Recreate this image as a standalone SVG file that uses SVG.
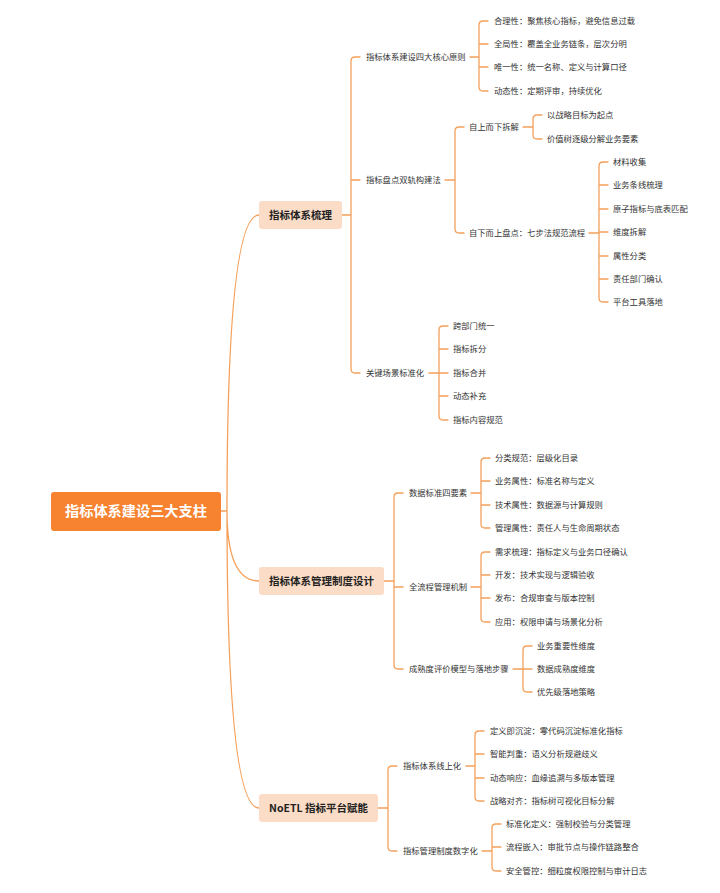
<svg xmlns="http://www.w3.org/2000/svg" width="720" height="893" viewBox="0 0 720 893">
<style>
.ln{fill:none;stroke:#F5A05A;stroke-width:1.3;stroke-linecap:round}
.t{font-family:"Noto Sans CJK SC","Noto Sans",sans-serif;font-size:8.3px;fill:#333}
.b{font-family:"Noto Sans CJK SC","Noto Sans",sans-serif;font-size:10.5px;font-weight:bold;fill:#222;text-anchor:middle}
.r{font-family:"Noto Sans CJK SC","Noto Sans",sans-serif;font-size:14.2px;font-weight:bold;fill:#fff;text-anchor:middle}
.bx{fill:#FBDCC6}
</style>
<rect width="720" height="893" fill="#fff"/>
<g id="connectors">
<path class="ln" d="M220,511 H227 M227,511 Q227,215 259,215 M227,511 Q227,581 259,581 M227,511 Q227,808 259,808"/>
<!-- branch 1 -->
<path class="ln" d="M342,215 H351 M360,57 H355 Q351,57 351,61 V369 Q351,373 355,373 H360 M351,180 H360"/>
<path class="ln" d="M470,57 H479 M488,21 H483 Q479,21 479,25 V87 Q479,91 483,91 H488 M479,44 H488 M479,67 H488"/>
<path class="ln" d="M445,180 H455 M464,127 H459 Q455,127 455,131 V229 Q455,233 459,233 H464"/>
<path class="ln" d="M523,127 H533 M542,115 H537 Q533,115 533,119 V135 Q533,139 537,139 H542"/>
<path class="ln" d="M589,233 H599 M608,162 H603 Q599,162 599,166 V298 Q599,302 603,302 H608 M599,185 H608 M599,209 H608 M599,232 H608 M599,256 H608 M599,279 H608"/>
<path class="ln" d="M429,373 H439 M448,326 H443 Q439,326 439,330 V416 Q439,420 443,420 H448 M439,349 H448 M439,373 H448 M439,396 H448"/>
<!-- branch 2 -->
<path class="ln" d="M384,581 H394 M403,493 H398 Q394,493 394,497 V665 Q394,669 398,669 H403 M394,587 H403"/>
<path class="ln" d="M471,493 H481 M490,458 H485 Q481,458 481,462 V524 Q481,528 485,528 H490 M481,481 H490 M481,505 H490"/>
<path class="ln" d="M471,587 H481 M490,552 H485 Q481,552 481,556 V618 Q481,622 485,622 H490 M481,575 H490 M481,598 H490"/>
<path class="ln" d="M513,669 H523 M532,646 H527 Q523,646 523,650 V688 Q523,692 527,692 H532 M523,669 H532"/>
<!-- branch 3 -->
<path class="ln" d="M378,808 H388 M397,766 H392 Q388,766 388,770 V847 Q388,851 392,851 H397"/>
<path class="ln" d="M466,766 H475 M484,731 H479 Q475,731 475,735 V797 Q475,801 479,801 H484 M475,754 H484 M475,778 H484"/>
<path class="ln" d="M482,851 H492 M501,824 H496 Q492,824 492,828 V867 Q492,871 496,871 H501 M492,847 H501"/>
</g>
<g id="root">
<rect x="51" y="492" width="170" height="39" rx="3" fill="#F7822F"/>
<text class="r" x="136" y="516">指标体系建设三大支柱</text>
</g>
<g id="b1">
<rect class="bx" x="259" y="201" width="83" height="28" rx="3"/>
<text class="b" x="300.5" y="218.7">指标体系梳理</text>
</g>
<g id="b2">
<rect class="bx" x="259" y="567" width="125" height="28" rx="3"/>
<text class="b" x="321.5" y="584.7">指标体系管理制度设计</text>
</g>
<g id="b3">
<rect class="bx" x="259" y="794" width="119" height="28" rx="3"/>
<text class="b" x="318.5" y="811.7">NoETL 指标平台赋能</text>
</g>
<g id="b1-children">
<text class="t" x="366" y="60">指标体系建设四大核心原则</text>
<text class="t" x="494" y="24">合理性：聚焦核心指标，避免信息过载</text>
<text class="t" x="494" y="47">全局性：覆盖全业务链条，层次分明</text>
<text class="t" x="494" y="70">唯一性：统一名称、定义与计算口径</text>
<text class="t" x="494" y="94">动态性：定期评审，持续优化</text>
<text class="t" x="366" y="183">指标盘点双轨构建法</text>
<text class="t" x="469" y="130">自上而下拆解</text>
<text class="t" x="547" y="118">以战略目标为起点</text>
<text class="t" x="547" y="142">价值树逐级分解业务要素</text>
<text class="t" x="469" y="236">自下而上盘点：七步法规范流程</text>
<text class="t" x="613" y="165">材料收集</text>
<text class="t" x="613" y="188">业务条线梳理</text>
<text class="t" x="613" y="212">原子指标与底表匹配</text>
<text class="t" x="613" y="235">维度拆解</text>
<text class="t" x="613" y="259">属性分类</text>
<text class="t" x="613" y="282">责任部门确认</text>
<text class="t" x="613" y="305">平台工具落地</text>
<text class="t" x="366" y="376">关键场景标准化</text>
<text class="t" x="453" y="329">跨部门统一</text>
<text class="t" x="453" y="352">指标拆分</text>
<text class="t" x="453" y="376">指标合并</text>
<text class="t" x="453" y="399">动态补充</text>
<text class="t" x="453" y="423">指标内容规范</text>
</g>
<g id="b2-children">
<text class="t" x="409" y="496">数据标准四要素</text>
<text class="t" x="495" y="461">分类规范：层级化目录</text>
<text class="t" x="495" y="484">业务属性：标准名称与定义</text>
<text class="t" x="495" y="508">技术属性：数据源与计算规则</text>
<text class="t" x="495" y="531">管理属性：责任人与生命周期状态</text>
<text class="t" x="409" y="590">全流程管理机制</text>
<text class="t" x="495" y="555">需求梳理：指标定义与业务口径确认</text>
<text class="t" x="495" y="578">开发：技术实现与逻辑验收</text>
<text class="t" x="495" y="601">发布：合规审查与版本控制</text>
<text class="t" x="495" y="625">应用：权限申请与场景化分析</text>
<text class="t" x="409" y="672">成熟度评价模型与落地步骤</text>
<text class="t" x="537" y="649">业务重要性维度</text>
<text class="t" x="537" y="672">数据成熟度维度</text>
<text class="t" x="537" y="695">优先级落地策略</text>
</g>
<g id="b3-children">
<text class="t" x="403" y="769">指标体系线上化</text>
<text class="t" x="490" y="734">定义即沉淀：零代码沉淀标准化指标</text>
<text class="t" x="490" y="757">智能判重：语义分析规避歧义</text>
<text class="t" x="490" y="781">动态响应：血缘追溯与多版本管理</text>
<text class="t" x="490" y="804">战略对齐：指标树可视化目标分解</text>
<text class="t" x="403" y="854">指标管理制度数字化</text>
<text class="t" x="506" y="827">标准化定义：强制校验与分类管理</text>
<text class="t" x="506" y="850">流程嵌入：审批节点与操作链路整合</text>
<text class="t" x="506" y="874">安全管控：细粒度权限控制与审计日志</text>
</g>
</svg>
